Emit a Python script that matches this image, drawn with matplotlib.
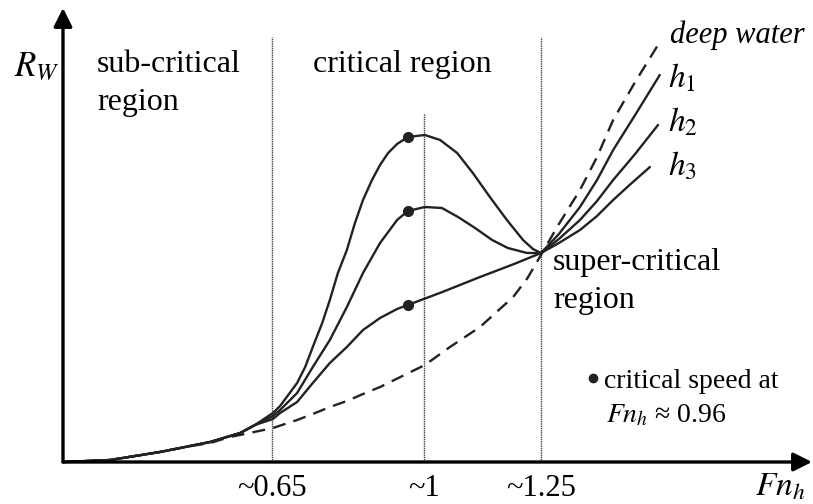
import matplotlib
matplotlib.use('Agg')
import matplotlib.pyplot as plt

plt.rcParams['font.family'] = ['Liberation Serif', 'DejaVu Serif']
plt.rcParams['mathtext.fontset'] = 'stix'

# Fn_h on x, R_W (arbitrary units) on y
fn_low = [0.186, 0.289, 0.400, 0.512, 0.579, 0.612]
rw_low = [0.00, 0.02, 0.10, 0.20, 0.29, 0.37]

fn_deep = [0.186, 0.289, 0.400, 0.470, 0.512, 0.556, 0.600, 0.652, 0.706, 0.741,
           0.779, 0.817, 0.853, 0.891, 0.941, 0.991, 1.047, 1.114, 1.188, 1.220,
           1.250, 1.290, 1.337, 1.375, 1.411, 1.460, 1.511]
rw_deep = [0.00, 0.02, 0.10, 0.16, 0.19, 0.25, 0.29, 0.34, 0.42, 0.48,
           0.55, 0.61, 0.68, 0.75, 0.86, 0.97, 1.15, 1.35, 1.65, 1.84,
           2.07, 2.38, 2.72, 3.05, 3.42, 3.80, 4.17]

fn_h1 = [0.652, 0.668, 0.706, 0.724, 0.741, 0.762, 0.779, 0.797, 0.817, 0.835,
         0.853, 0.873, 0.891, 0.909, 0.929, 0.953, 0.991, 1.025, 1.063, 1.098,
         1.136, 1.174, 1.210, 1.232, 1.250, 1.290, 1.337, 1.375, 1.411, 1.460,
         1.515]
rw_h1 = [0.49, 0.56, 0.79, 0.95, 1.15, 1.39, 1.62, 1.89, 2.12, 2.39,
         2.62, 2.82, 2.97, 3.09, 3.18, 3.25, 3.27, 3.22, 3.09, 2.89,
         2.65, 2.42, 2.22, 2.13, 2.09, 2.28, 2.55, 2.82, 3.12, 3.47,
         3.87]

fn_h2 = [0.652, 0.668, 0.706, 0.741, 0.779, 0.817, 0.853, 0.891, 0.929, 0.953,
         0.991, 1.029, 1.065, 1.103, 1.141, 1.176, 1.219, 1.250, 1.290, 1.337,
         1.375, 1.411, 1.460, 1.511]
rw_h2 = [0.46, 0.52, 0.69, 0.95, 1.22, 1.55, 1.89, 2.19, 2.42, 2.51,
         2.55, 2.54, 2.45, 2.34, 2.22, 2.14, 2.09, 2.09, 2.23, 2.42,
         2.61, 2.82, 3.08, 3.37]

fn_h3 = [0.652, 0.668, 0.706, 0.741, 0.779, 0.817, 0.853, 0.891, 0.929, 0.953,
         1.030, 1.114, 1.190, 1.250, 1.290, 1.337, 1.375, 1.411, 1.450, 1.493]
rw_h3 = [0.43, 0.49, 0.60, 0.79, 0.99, 1.15, 1.32, 1.44, 1.53, 1.57,
         1.70, 1.85, 1.98, 2.09, 2.19, 2.32, 2.46, 2.62, 2.78, 2.95]

crit_fn = 0.953
crit_rw = [3.25, 2.51, 1.57]

region_fn = [0.65, 0.99, 1.25]
region_top = [4.25, 3.49, 4.25]
tick_labels = ['~0.65', '~1', '~1.25']

W, H = 813, 504
fig = plt.figure(figsize=(W / 100, H / 100), dpi=100)
ax = fig.add_axes([0, 0, 1, 1])
# pixel -> data: Fn = 0.65 + (px - 272)/448.3 ; R = (462 - py)/100
ax.set_xlim(0.65 - 272 / 448.3, 0.65 + (W - 272) / 448.3)
ax.set_ylim((462 - H) / 100, 4.62)
ax.axis('off')


def fp(px, py):
    return px / W, 1 - py / H


x0 = 0.65 + (63 - 272) / 448.3
ink = '#222222'

# axes with arrows
ax.annotate('', xy=(0.65 + (812 - 272) / 448.3, 0), xytext=(x0, 0),
            arrowprops=dict(arrowstyle='-|>', mutation_scale=28, lw=2.4,
                            color='black', shrinkA=0, shrinkB=0))
ax.annotate('', xy=(x0, (462 - 8) / 100), xytext=(x0, 0),
            arrowprops=dict(arrowstyle='-|>', mutation_scale=28, lw=2.4,
                            color='black', shrinkA=0, shrinkB=0))

# region boundaries
for xv, top in zip(region_fn, region_top):
    ax.plot([xv, xv], [0, top], color='#444444', lw=1.0, ls=(0, (1, 0.6)))

style = dict(color=ink, lw=1.7, solid_capstyle='round', solid_joinstyle='round')
ax.plot(fn_low + fn_h1, rw_low + rw_h1, **style)
ax.plot(fn_low + fn_h2, rw_low + rw_h2, **style)
ax.plot(fn_low + fn_h3, rw_low + rw_h3, **style)
ax.plot(fn_deep, rw_deep, color=ink, lw=1.7, ls=(0, (5.5, 3.5)))
ax.plot([crit_fn] * 3, crit_rw, 'o', color=ink, ms=7)

tr = ax.transAxes
big = 23
ax.text(*fp(14, 76), r'$R_W$', transform=tr, fontsize=25, va='baseline')
ax.text(*fp(97, 72), 'sub-critical', transform=tr, fontsize=big, va='baseline')
ax.text(*fp(97, 110), 'region', transform=tr, fontsize=big, va='baseline')
ax.text(*fp(313, 72), 'critical region', transform=tr, fontsize=big, va='baseline')
ax.text(*fp(553, 270), 'super-critical', transform=tr, fontsize=big, va='baseline')
ax.text(*fp(553, 308), 'region', transform=tr, fontsize=big, va='baseline')
ax.text(*fp(670, 43), 'deep water', transform=tr, fontsize=22, style='italic',
        va='baseline')
ax.text(*fp(668, 87), r'$h_{\mathit{1}}$', transform=tr, fontsize=24, va='baseline')
ax.text(*fp(668, 132), r'$h_{\mathit{2}}$', transform=tr, fontsize=24, va='baseline')
ax.text(*fp(668, 176), r'$h_{\mathit{3}}$', transform=tr, fontsize=24, va='baseline')

ax.plot(*fp(593, 378), 'o', color=ink, ms=6, transform=tr)
ax.text(*fp(604, 388), 'critical speed at', transform=tr, fontsize=20, va='baseline')
ax.text(*fp(606, 422), r'$Fn_h$' + ' ≈ 0.96', transform=tr, fontsize=20,
        va='baseline')

for xv, lab in zip(region_fn, tick_labels):
    ax.text(xv, (462 - 503) / 100, lab, fontsize=22, ha='center', va='bottom')
ax.text(*fp(755, 503), r'$Fn_h$', transform=tr, fontsize=24, va='bottom')

fig.savefig('out.png', dpi=100)
